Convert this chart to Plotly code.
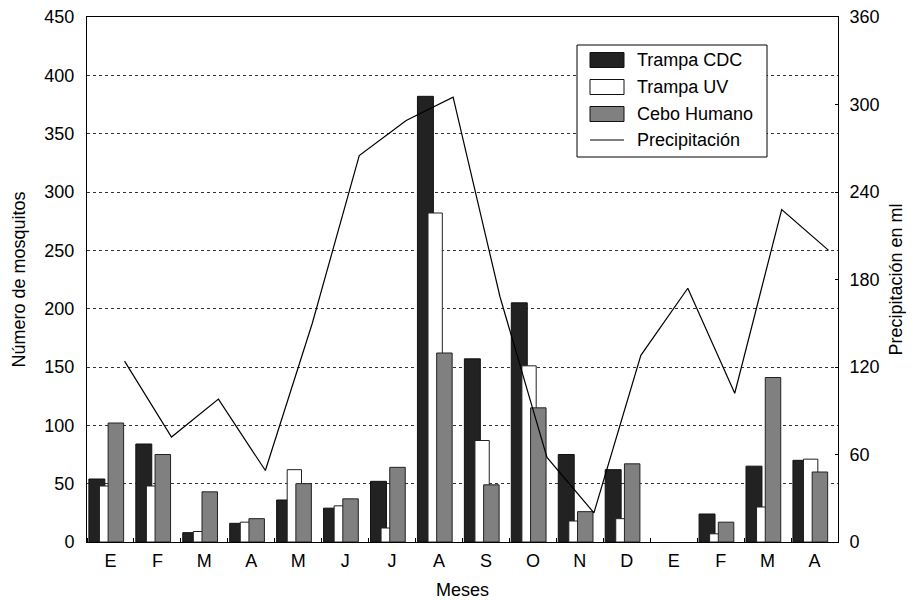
import plotly.graph_objects as go

meses = ["E", "F", "M", "A", "M", "J", "J", "A", "S", "O", "N", "D", "E", "F", "M", "A"]
trampa_cdc = [54, 84, 8, 16, 36, 29, 52, 382, 157, 205, 75, 62, None, 24, 65, 70]
trampa_uv = [48, 48, 9, 17, 62, 31, 12, 282, 87, 151, 18, 20, None, 7, 30, 71]
cebo_humano = [102, 75, 43, 20, 50, 37, 64, 162, 49, 115, 26, 67, None, 17, 141, 60]
precipitacion = [124, 72, 98, 49, 150, 265, 289, 305, 168, 58, 20, 128, 174, 102, 228, 200]

series_names = ["Trampa CDC", "Trampa UV", "Cebo Humano", "Precipitación"]
bar_colors = ["#222222", "#ffffff", "#808080"]

idx = list(range(len(meses)))
FONT = "Liberation Sans, Arial, sans-serif"

# The page body has an 8px margin; the figure is sized so the plot area sits
# at x 87..838, y 17..542 of the 914x600 window.
W, H = 906, 592
ML, MR, MT, MB = 79, 76, 9, 58
PX0, PX1, PY0, PY1 = 87, 838, 17, 542


def px(xp):
    return (xp - PX0) / (PX1 - PX0)


def py(yp):
    return (PY1 - yp) / (PY1 - PY0)


fig = go.Figure()
fig.add_trace(go.Bar(
    x=idx, y=trampa_cdc, name=series_names[0], offset=-0.46, width=0.34,
    marker=dict(color=bar_colors[0], line=dict(color="#111111", width=1))))
fig.add_trace(go.Bar(
    x=idx, y=trampa_uv, name=series_names[1], offset=-0.235, width=0.305,
    marker=dict(color=bar_colors[1], line=dict(color="#222222", width=1))))
fig.add_trace(go.Bar(
    x=idx, y=cebo_humano, name=series_names[2], offset=-0.05, width=0.33,
    marker=dict(color=bar_colors[2], line=dict(color="#222222", width=1))))
fig.add_trace(go.Scatter(
    x=[i + 0.3 for i in idx], y=precipitacion, name=series_names[3],
    mode="lines", line=dict(color="#000000", width=1.2), yaxis="y2"))

# Legend drawn as a boxed key (wide rectangle swatches as in the original)
shapes = [dict(type="rect", xref="paper", yref="paper",
               x0=px(577), x1=px(767), y0=py(157), y1=py(45),
               line=dict(color="#000000", width=1), fillcolor="white", layer="above")]
annotations = []
for i, name in enumerate(series_names):
    top = 52.5 + 27 * i
    mid = top + 7.5
    if i < 3:
        shapes.append(dict(type="rect", xref="paper", yref="paper",
                           x0=px(590), x1=px(624), y0=py(top + 15), y1=py(top),
                           line=dict(color="#111111", width=1),
                           fillcolor=bar_colors[i], layer="above"))
    else:
        mid = 140
        shapes.append(dict(type="line", xref="paper", yref="paper",
                           x0=px(590), x1=px(624), y0=py(mid), y1=py(mid),
                           line=dict(color="#000000", width=1.2), layer="above"))
    annotations.append(dict(xref="paper", yref="paper", x=px(635), y=py(mid),
                            text=name, showarrow=False, xanchor="left",
                            yanchor="middle",
                            font=dict(family=FONT, size=18, color="#000000")))

fig.update_layout(
    width=W, height=H,
    margin=dict(l=ML, r=MR, t=MT, b=MB),
    paper_bgcolor="white", plot_bgcolor="white",
    barmode="overlay",
    font=dict(family=FONT, size=18, color="#000000"),
    showlegend=False,
    shapes=shapes,
    annotations=annotations,
    xaxis=dict(
        range=[-0.5, 15.5],
        tickmode="array", tickvals=idx, ticktext=meses,
        ticks="", showgrid=False, zeroline=False,
        showline=True, linecolor="#000000", linewidth=1, mirror=True,
        tickfont=dict(size=18), ticklabelstandoff=2,
        minor=dict(tickmode="linear", tick0=-0.5, dtick=1, ticks="inside",
                   ticklen=4, tickcolor="#000000", showgrid=False),
        title=dict(text="Meses", font=dict(size=18), standoff=15),
        automargin=False,
    ),
    yaxis=dict(
        range=[0, 450], tickmode="linear", tick0=0, dtick=50,
        showgrid=True, gridcolor="#333333", griddash="dot", gridwidth=1,
        zeroline=False, ticks="", ticklabelstandoff=8,
        ticklabeloverflow="allow",
        showline=True, linecolor="#000000", linewidth=1, mirror=True,
        tickfont=dict(size=18),
        title=dict(text="Número de mosquitos", font=dict(size=18), standoff=14),
        automargin=False,
    ),
    yaxis2=dict(
        range=[0, 360], tickmode="linear", tick0=0, dtick=60,
        overlaying="y", side="right", showgrid=False, zeroline=False,
        ticks="inside", ticklen=3, tickcolor="#000000",
        ticklabeloverflow="allow",
        showline=True, linecolor="#000000", linewidth=1,
        tickfont=dict(size=18), ticklabelstandoff=7,
        title=dict(text="Precipitación en ml", font=dict(size=18), standoff=10),
        automargin=False,
    ),
)

fig.write_html("out.html")
